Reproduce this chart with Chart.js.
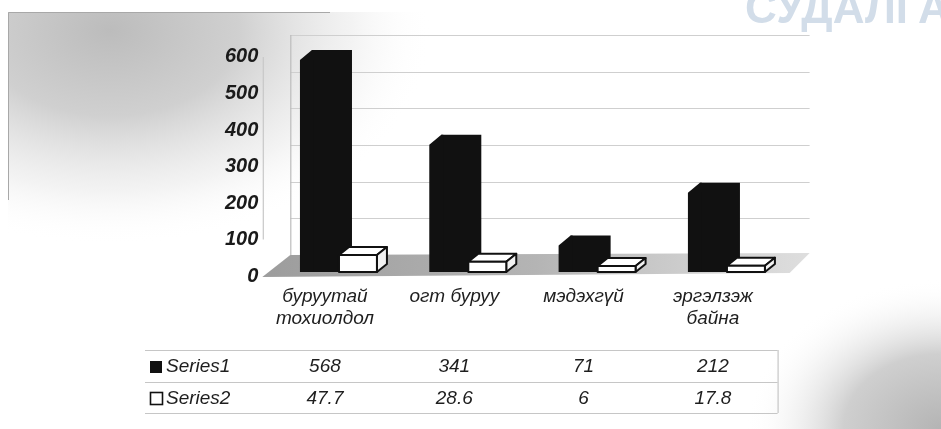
<!DOCTYPE html>
<html>
<head>
<meta charset="utf-8">
<script src="https://cdn.jsdelivr.net/npm/chart.js@4.4.1/dist/chart.umd.min.js"></script>
<style>
  html, body { margin: 0; padding: 0; background: #fff; }
  #wrap { width: 941px; height: 429px; }
</style>
</head>
<body>
<div id="wrap"><canvas id="grafico" width="941" height="429"></canvas></div>
<script>
// dados
const categories = [["буруутай", "тохиолдол"], ["огт буруу"], ["мэдэхгүй"], ["эргэлзэж", "байна"]];
const seriesNames = ["Series1", "Series2"];
const series1 = [568, 341, 71, 212];
const series2 = [47.7, 28.6, 6, 17.8];
const yTicks = [0, 100, 200, 300, 400, 500, 600];

const FONT = '"Liberation Sans", Arial, sans-serif';

// fundo, parede do fundo e chao em "3D"
const cenario = {
  id: "cenario",
  beforeDraw(chart) {
    const ctx = chart.ctx;
    const W = chart.width, H = chart.height;
    ctx.save();
    ctx.fillStyle = "#fff";
    ctx.fillRect(0, 0, W, H);

    // cinza no canto superior esquerdo
    ctx.save();
    ctx.beginPath();
    ctx.rect(8, 12, W, H);
    ctx.clip();
    ctx.translate(110, 30);
    ctx.scale(1.5, 1);
    let g = ctx.createRadialGradient(0, 0, 0, 0, 0, 215);
    g.addColorStop(0, "#bcbcbc");
    g.addColorStop(0.4, "#d0d0d0");
    g.addColorStop(0.75, "rgba(235,235,235,0.6)");
    g.addColorStop(1, "rgba(255,255,255,0)");
    ctx.fillStyle = g;
    ctx.fillRect(-220, -220, 440, 440);
    ctx.restore();
    ctx.strokeStyle = "#a8a8a8";
    ctx.lineWidth = 1;
    ctx.beginPath();
    ctx.moveTo(8.5, 200); ctx.lineTo(8.5, 12.5); ctx.lineTo(330, 12.5);
    ctx.stroke();

    // cinza no canto inferior direito
    ctx.save();
    ctx.translate(941, 429);
    ctx.scale(1.3, 1);
    g = ctx.createRadialGradient(0, 0, 0, 0, 0, 150);
    g.addColorStop(0, "#b4b4b4");
    g.addColorStop(0.5, "#cfcfcf");
    g.addColorStop(1, "rgba(255,255,255,0)");
    ctx.fillStyle = g;
    ctx.fillRect(-160, -160, 160, 160);
    ctx.restore();

    // marca d'agua
    ctx.fillStyle = "#d2dde9";
    ctx.font = "bold 44px " + FONT;
    ctx.textBaseline = "alphabetic";
    ctx.fillText("СУДАЛГАА", 745, 23);

    const area = chart.chartArea;
    const wall = chart.scales.yWall;
    const wl = area.left + 10, wr = area.right + 12;
    const floorY = wall.getPixelForValue(0);
    const topY = wall.getPixelForValue(600);

    // chao
    g = ctx.createLinearGradient(area.left - 20, 0, wr, 0);
    g.addColorStop(0, "#9c9c9c");
    g.addColorStop(0.5, "#b4b4b4");
    g.addColorStop(1, "rgba(200,200,200,0.6)");
    ctx.fillStyle = g;
    ctx.beginPath();
    ctx.moveTo(wl, floorY);
    ctx.lineTo(wr, floorY - 2);
    ctx.lineTo(wr - 20, area.bottom - 3);
    ctx.lineTo(area.left - 18, area.bottom + 1);
    ctx.closePath();
    ctx.fill();

    // linhas de grade na parede
    ctx.strokeStyle = "#cfcfcf";
    ctx.lineWidth = 1.2;
    yTicks.slice(1).forEach(v => {
      const y = Math.round(wall.getPixelForValue(v)) + 0.5;
      ctx.beginPath();
      ctx.moveTo(wl, y);
      ctx.lineTo(wr, y);
      ctx.stroke();
    });
    ctx.strokeStyle = "#bcbcbc";
    ctx.beginPath();
    ctx.moveTo(wl + 0.5, floorY);
    ctx.lineTo(wl + 0.5, topY);
    ctx.stroke();

    // eixo Y fraco
    const ys = chart.scales.y;
    const ax = area.left - 17;
    ctx.strokeStyle = "#c8c8c8";
    ctx.beginPath();
    ctx.moveTo(ax, ys.getPixelForValue(600));
    ctx.lineTo(ax, ys.getPixelForValue(100));
    ctx.stroke();
    ctx.restore();
  },

  afterDatasetsDraw(chart) {
    const ctx = chart.ctx;
    ctx.save();
    // face lateral das barras pretas
    chart.getDatasetMeta(0).data.forEach(el => {
      const left = el.x - el.width / 2;
      ctx.fillStyle = "#111";
      ctx.beginPath();
      ctx.moveTo(left + 2, el.y);
      ctx.lineTo(left, el.y);
      ctx.lineTo(left - 12, el.y + 10);
      ctx.lineTo(left - 12, el.base);
      ctx.lineTo(left + 2, el.base);
      ctx.closePath();
      ctx.fill();
    });
    // caixas brancas
    const dx = 10, dy = -8;
    ctx.lineWidth = 2;
    ctx.strokeStyle = "#111";
    ctx.lineJoin = "round";
    chart.getDatasetMeta(1).data.forEach(el => {
      const l = el.x - el.width / 2, r = el.x + el.width / 2;
      const t = el.y, b = el.base;
      ctx.fillStyle = "#fff";
      ctx.beginPath();
      ctx.moveTo(l, t); ctx.lineTo(l + dx, t + dy); ctx.lineTo(r + dx, t + dy); ctx.lineTo(r, t);
      ctx.closePath(); ctx.fill(); ctx.stroke();
      ctx.fillStyle = "#f2f2f2";
      ctx.beginPath();
      ctx.moveTo(r, t); ctx.lineTo(r + dx, t + dy); ctx.lineTo(r + dx, b + dy); ctx.lineTo(r, b);
      ctx.closePath(); ctx.fill(); ctx.stroke();
      ctx.fillStyle = "#fff";
      ctx.fillRect(l, t, r - l, b - t);
      ctx.strokeRect(l, t, r - l, b - t);
    });
    ctx.restore();
  },

  // tabela de dados
  afterDraw(chart) {
    const ctx = chart.ctx;
    const area = chart.chartArea;
    const xs = chart.scales.x;
    const x0 = 145, x1 = area.right - 20;
    const lines = [area.bottom + 74, area.bottom + 106, area.bottom + 137];
    ctx.save();
    ctx.strokeStyle = "#c6c6c6";
    ctx.lineWidth = 1.2;
    lines.forEach(y => {
      ctx.beginPath(); ctx.moveTo(x0, y + 0.5); ctx.lineTo(x1, y + 0.5); ctx.stroke();
    });
    ctx.beginPath(); ctx.moveTo(x1 + 0.5, lines[0]); ctx.lineTo(x1 + 0.5, lines[2]); ctx.stroke();

    const rows = [series1, series2];
    ctx.font = "italic 19px " + FONT;
    ctx.textBaseline = "middle";
    rows.forEach((vals, r) => {
      const y = (lines[r] + lines[r + 1]) / 2 + 1;
      // amostra da legenda
      if (r === 0) {
        ctx.fillStyle = "#111";
        ctx.fillRect(150, y - 6, 12, 12);
      } else {
        ctx.strokeStyle = "#111";
        ctx.lineWidth = 1.6;
        ctx.strokeRect(150.5, y - 6, 12, 12);
      }
      ctx.fillStyle = "#1e1e1e";
      ctx.textAlign = "left";
      ctx.fillText(seriesNames[r], 166, y);
      ctx.textAlign = "center";
      vals.forEach((v, i) => {
        ctx.fillText(String(v), xs.getPixelForValue(i) - 20, y);
      });
    });
    ctx.restore();
  }
};

const chart = new Chart(document.getElementById("grafico"), {
  type: "bar",
  data: {
    labels: categories,
    datasets: [
      {
        label: seriesNames[0],
        data: series1,
        yAxisID: "yb",
        base: -26.8,
        backgroundColor: "#111",
        borderWidth: 0,
        categoryPercentage: 0.402,
        barPercentage: 1.54
      },
      {
        label: seriesNames[1],
        data: series2,
        yAxisID: "yw",
        backgroundColor: "#fff",
        borderColor: "#111",
        borderWidth: 2,
        borderSkipped: false,
        minBarLength: 6,
        categoryPercentage: 0.402,
        barPercentage: 1.46
      }
    ]
  },
  options: {
    responsive: false,
    animation: false,
    layout: { padding: { left: 0, right: 143.4, top: 38, bottom: 0 } },
    plugins: { legend: { display: false }, tooltip: { enabled: false } },
    scales: {
      x: {
        grid: { display: false, drawTicks: false },
        border: { display: false },
        ticks: {
          font: { family: FONT, size: 19, style: "italic", lineHeight: 1.16 },
          color: "#1e1e1e",
          padding: 10,
          labelOffset: -20,
          maxRotation: 0,
          autoSkip: false
        },
        afterFit: s => { s.height = 153; }
      },
      y: {
        position: "left",
        min: 0,
        max: 652,
        grid: { display: false, drawTicks: false },
        border: { display: false },
        ticks: {
          font: { family: FONT, size: 20, style: "italic", weight: "bold" },
          color: "#1a1a1a",
          padding: 22
        },
        afterBuildTicks: s => { s.ticks = yTicks.map(v => ({ value: v })); },
        afterFit: s => { s.width = 280.3; }
      },
      yb: { display: false, min: -37.51, max: 600.15 },
      yw: { display: false, min: -11.2, max: 657.3 },
      yWall: { display: false, min: -57.3, max: 591.8 }
    }
  },
  plugins: [cenario]
});
</script>
</body>
</html>
